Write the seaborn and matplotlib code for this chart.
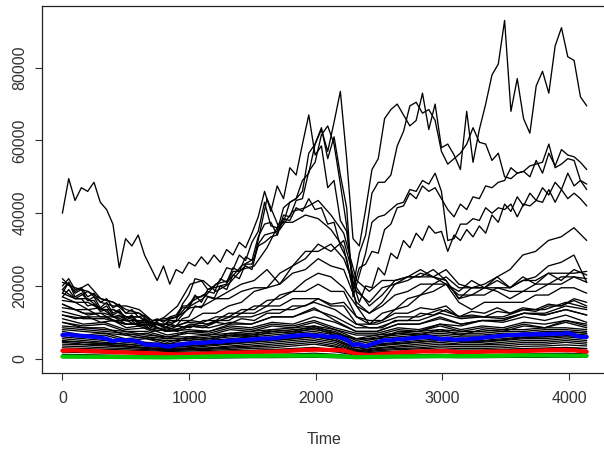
import numpy as np
import pandas as pd
import matplotlib
matplotlib.use("Agg")
import matplotlib.pyplot as plt
import seaborn as sns

# Last time step of every series; each series is sampled evenly on [0, T_END]
T_END = 4140

# ---- upper series (sampled every ~50 steps) ----
series_a = [40000, 49500, 43500, 47000, 46000, 48500, 43000, 41000, 37000, 25000,
            33000, 31000, 34000, 28500, 25000, 21500, 25500, 20500, 24500, 23500,
            26500, 25500, 28000, 26000, 28500, 26500, 30000, 28500, 32000, 30500,
            34500, 39000, 46000, 40500, 47500, 44000, 52500, 50500, 59000, 67000,
            56000, 58500, 47000, 49000, 38000, 35000, 21000, 15500, 20000, 19500,
            25000, 23000, 29000, 27500, 32500, 30500, 34500, 32500, 36500, 34500,
            35000, 29500, 34000, 32500, 35500, 33500, 36500, 34500, 39500, 37500,
            42500, 40500, 44500, 42000, 45500, 43500, 47000, 45000, 48500, 46500,
            51000, 47500, 49000, 46500]
series_b = [18000, 21000, 18000, 19000, 16000, 17000, 14000, 15500, 12500, 13500,
            11000, 12000, 10000, 11000, 9000, 10000, 9000, 10500, 10500, 15000,
            17500, 22000, 21500, 19000, 20000, 21500, 25000, 24500, 28500, 27000,
            32000, 35000, 43000, 36500, 36000, 37500, 43000, 44000, 49000, 51000,
            59000, 63000, 57000, 65000, 73500, 55000, 33000, 31000, 41000, 52000,
            55000, 66000, 68500, 70000, 67000, 64000, 65500, 73000, 63000, 70000,
            58000, 59000, 56000, 52000, 68000, 54000, 63000, 70000, 78000, 81000,
            93000, 68000, 77000, 66000, 62000, 75000, 79000, 73000, 86000, 91000,
            83000, 82000, 72000, 69500]
series_c = [20000, 22000, 19000, 19500, 17000, 18000, 15500, 16500, 14000, 15000,
            12500, 13500, 11500, 12000, 10000, 11000, 10000, 11500, 12000, 14500,
            14500, 17500, 15500, 19000, 19500, 20000, 20500, 24000, 24000, 28000,
            27000, 33500, 37000, 37500, 34000, 39500, 39000, 43500, 44000, 51500,
            54000, 61500, 64000, 59000, 48000, 36500, 19500, 29000, 34000, 45500,
            48500, 48500, 50500, 58500, 62500, 69500, 70500, 67500, 68500, 65500,
            57000, 53500, 55000, 56500, 59000, 63500, 59500, 59000, 54500, 56500,
            50000, 49500, 51000, 51500, 53000, 53500, 54000, 59000, 52500, 53500,
            55000, 54500, 49000, 48000]
series_d = [19000, 21000, 17000, 18000, 16000, 16000, 13500, 14500, 12000, 13000,
            10500, 11500, 9500, 10500, 8500, 9500, 9000, 11000, 11500, 14000,
            14000, 17000, 17000, 18500, 18000, 22000, 21000, 25000, 24000, 25500,
            24500, 31500, 34000, 34500, 35000, 41500, 43000, 44000, 46000, 56500,
            59000, 63500, 55000, 61000, 50500, 41500, 17000, 23000, 29000, 37500,
            39000, 39500, 41000, 42500, 43000, 46500, 46000, 49000, 48000, 51000,
            46000, 32500, 33000, 37000, 37000, 38500, 38000, 41500, 40000, 41500,
            41000, 42500, 39000, 42500, 42000, 43500, 43000, 46500, 43000, 46500,
            44000, 45500, 44000, 42000]
series_e = [17000, 19000, 16500, 16500, 14500, 15000, 13000, 13500, 11500, 12000,
            10500, 10500, 9000, 9500, 8000, 8500, 8000, 9500, 9000, 11000,
            11500, 14500, 14000, 17000, 16500, 20000, 19000, 23000, 22000, 26000,
            26000, 31000, 32000, 33500, 34000, 38500, 38000, 41500, 40500, 44000,
            41000, 41500, 37000, 37500, 31000, 27500, 19000, 25000, 26000, 29500,
            29000, 35500, 37000, 41500, 42000, 45500, 44000, 47500, 46000, 47000,
            44000, 41000, 39000, 42500, 41000, 44500, 44000, 47500, 47000, 48500,
            49000, 52500, 51000, 51500, 50000, 54500, 51000, 56500, 53000, 57500,
            56000, 55500, 54000, 52000]

# ---- middle series (sampled every ~100 steps) ----
series_m1 = [22000, 18500, 20500, 16500, 15500, 13500, 12500, 9500, 9500, 10500,
             14500, 16500, 20500, 21500, 25500, 27500, 44000, 35500, 40500, 41500,
             43500, 39500, 34500, 21500, 18500, 21500, 21500, 22500, 22500, 22500,
             21500, 16500, 19500, 20500, 22500, 19500, 22500, 20500, 23500, 21500,
             24500, 23000]
series_m2 = [19000, 16500, 18500, 15500, 14500, 14500, 13500, 10500, 10500, 11500,
             15500, 17500, 16500, 18500, 20500, 21500, 24500, 20500, 25500, 27500,
             31500, 29500, 32500, 19500, 14500, 17500, 21500, 22500, 24500, 22500,
             20500, 18500, 21500, 19500, 22500, 24500, 28500, 29500, 32500, 33500,
             36000, 32500]
series_m3 = [16000, 15500, 13500, 14000, 11500, 11500, 10000, 10000, 8500, 10500,
             10500, 12500, 12500, 14500, 15500, 18500, 19500, 23500, 25500, 29500,
             29500, 31500, 27500, 18500, 15500, 19500, 20500, 22500, 22500, 24500,
             21500, 16500, 17500, 19500, 19500, 18500, 18500, 20500, 20500, 22500,
             22500, 22000]
series_m4 = [21000, 19500, 18500, 16500, 15500, 12500, 12500, 10500, 11000, 11500,
             14000, 14500, 16500, 16500, 18500, 19500, 19500, 20500, 23500, 24500,
             27500, 25500, 24500, 15500, 12500, 14500, 17500, 18500, 20500, 20500,
             22500, 19500, 19500, 19500, 18500, 16500, 18500, 18500, 20500, 20500,
             22500, 21000]
series_m5 = [14000, 13500, 12000, 12500, 10500, 10500, 9000, 9500, 7500, 9000,
             8500, 10500, 10500, 12500, 12500, 14500, 14500, 17500, 18500, 21500,
             23500, 22500, 19500, 14500, 9500, 12500, 13500, 16500, 17500, 20500,
             20500, 15500, 13500, 15500, 15500, 15500, 15500, 17500, 17500, 19500,
             19500, 18000]
series_m6 = [18000, 16500, 16500, 13500, 13500, 11500, 11500, 9500, 9500, 9000,
             10500, 10000, 11500, 11500, 13500, 13500, 16000, 16500, 18500, 18500,
             20500, 18500, 18500, 11500, 9500, 10500, 13500, 14500, 17500, 18500,
             20500, 17500, 17500, 17500, 19500, 19500, 21500, 22500, 25500, 26500,
             28500, 21000]
series_m7 = [12000, 11000, 11500, 10000, 10500, 8500, 9000, 7500, 8000, 7500,
             9000, 8500, 10000, 9500, 11000, 10500, 12500, 12500, 14500, 14500,
             16500, 15000, 15500, 11500, 10500, 10500, 12500, 12500, 14000, 13500,
             14500, 11500, 13000, 12500, 14000, 12500, 14000, 13500, 15000, 14500,
             16000, 14500]
series_m8 = [15000, 13500, 13500, 11500, 11500, 9500, 9500, 8000, 8500, 8000,
             9500, 9000, 10500, 10500, 12500, 12500, 14500, 14500, 16500, 16500,
             16500, 14500, 14500, 9500, 8500, 8500, 10500, 10500, 12500, 12000,
             13500, 11500, 12000, 11500, 13000, 12500, 13500, 13000, 14500, 14500,
             16500, 15500]
series_m9 = [17000, 15500, 15500, 13500, 13500, 11500, 11500, 9500, 11500, 14500,
             20500, 21500, 18500, 20500, 24500, 25500, 30500, 37500, 37500, 39500,
             38500, 35500, 30500, 14500, 12500, 15500, 20500, 21500, 23500, 22500,
             24500, 20500, 19500, 19500, 21500, 19500, 21500, 21500, 23500, 23500,
             23500, 24000]

# ---- lower bundle, in thousands (sampled every ~166 steps) ----
bundle_01_k = [13, 11.5, 11.5, 9.5, 9.5, 7.5, 9, 8.5, 10, 9.5, 11.5, 11.5, 13.5, 11.5, 8.5, 8.5, 10.5, 10.5, 12.5, 11, 11.5, 11, 12.5, 12, 13.5, 12]
bundle_02_k = [12, 11, 11, 9.5, 9.5, 7.5, 8, 7.5, 9, 8.5, 10, 9.5, 11.5, 10, 7.5, 7.5, 9.5, 9.5, 11, 9.5, 10.5, 10, 11.5, 10.5, 12, 10]
bundle_03_k = [11, 9.5, 10, 8, 8.5, 6.5, 7.5, 7, 8.5, 8, 9.5, 9, 10.5, 8.5, 7, 7, 8.5, 8, 9.5, 8, 9, 8.5, 10, 9.5, 10.5, 9]
bundle_04_k = [10, 9, 9.5, 7.5, 7.5, 6, 7, 6.5, 8, 7.5, 9, 8.5, 10, 8, 6.5, 6.5, 8, 7.5, 9, 7.5, 8.5, 8, 9.5, 8.5, 10, 8.5]
bundle_05_k = [9, 8.5, 8, 7.5, 6.5, 6, 6, 6.5, 7, 7.5, 8, 8.5, 9, 8, 5.5, 6.5, 7, 7.5, 8, 7.5, 7.5, 8, 8, 8.5, 8.5, 8]
bundle_06_k = [8.5, 8, 7.5, 7, 6, 5.5, 5.5, 6, 6.5, 7, 7.5, 8, 8.5, 7.5, 5, 6, 6.5, 7, 7.5, 7, 7, 7.5, 7.5, 8, 8, 7.5]
bundle_07_k = [8, 7.5, 7, 6.5, 5.5, 5, 5, 5.5, 6, 6.5, 7, 7.5, 8, 7, 4.5, 5.5, 6, 6.5, 7, 6.5, 6.5, 7, 7, 7.5, 7.5, 7]
bundle_08_k = [7, 6, 6.5, 5, 5.5, 4, 5.5, 5, 6.5, 6, 7.5, 7, 8.5, 6.5, 5.5, 5.5, 7.5, 7.5, 9.5, 9, 10.5, 10.5, 12.5, 12.5, 14.5, 13.5]
bundle_09_k = [6.5, 6, 5.5, 5, 4.5, 4, 4.5, 5, 5.5, 6, 6.5, 7, 7.5, 6.5, 4, 5, 5.5, 6, 6.5, 6, 6, 6.5, 7, 7, 7.5, 7]
bundle_10_k = [6, 5.5, 5, 4.5, 4, 3.5, 4, 4.5, 5, 5.5, 6, 6.5, 7, 6, 3.5, 4.5, 5, 5.5, 6, 5.5, 5.5, 6, 6.5, 6.5, 7, 6.5]
bundle_11_k = [5.5, 5, 4.5, 4, 3.5, 3, 3.5, 4, 4.5, 5, 5.5, 6, 6.5, 5.5, 3, 4, 4.5, 5, 5.5, 5, 5, 5.5, 6, 6, 6.5, 6]
bundle_12_k = [5, 4.5, 4, 3.5, 3, 2.8, 3, 3.5, 4, 4.5, 5, 5.5, 6, 5, 2.5, 3.5, 4, 4.5, 5, 4.5, 4.5, 5, 5.5, 5.5, 6, 5.5]
bundle_13_k = [4.5, 4, 3.8, 3.5, 3, 2.5, 2.8, 3, 3.5, 4, 4.5, 5, 5.5, 4.5, 2.2, 3, 3.5, 4, 4.5, 4, 4, 4.5, 5, 5, 5.5, 5]
bundle_14_k = [4, 3.8, 3.5, 3.2, 2.8, 2.4, 2.6, 2.8, 3.2, 3.5, 4, 4.5, 5, 4, 2, 2.8, 3.2, 3.5, 4, 3.8, 3.8, 4, 4.5, 4.5, 5, 4.5]
bundle_15_k = [3.5, 3.3, 3, 2.8, 2.5, 2.2, 2.4, 2.6, 2.9, 3.2, 3.5, 4, 4.5, 3.5, 1.8, 2.5, 2.8, 3, 3.5, 3.3, 3.3, 3.5, 4, 4, 4.5, 4]
bundle_16_k = [3, 2.8, 2.6, 2.4, 2.2, 2, 2.1, 2.3, 2.5, 2.8, 3, 3.5, 4, 3.2, 1.6, 2.2, 2.5, 2.7, 3, 2.8, 2.8, 3, 3.4, 3.5, 3.8, 3.5]
bundle_17_k = [2.5, 2.3, 2.1, 2, 1.8, 1.6, 1.7, 1.9, 2.1, 2.3, 2.5, 2.8, 3.1, 2.5, 1.3, 1.8, 2, 2.2, 2.5, 2.3, 2.3, 2.5, 2.8, 2.9, 3.1, 2.8]
bundle_18_k = [1.8, 1.7, 1.6, 1.5, 1.3, 1.2, 1.3, 1.4, 1.6, 1.7, 1.9, 2.1, 2.3, 1.9, 1, 1.3, 1.5, 1.7, 1.9, 1.8, 1.8, 1.9, 2.1, 2.2, 2.3, 2.1]
bundle_19_k = [1.2, 1.1, 1, 0.9, 0.8, 0.7, 0.8, 0.9, 1, 1.1, 1.2, 1.3, 1.5, 1.2, 0.7, 0.9, 1, 1.1, 1.2, 1.1, 1.1, 1.2, 1.3, 1.4, 1.5, 1.3]
bundle_20_k = [0.3, 0.3, 0.25, 0.2, 0.2, 0.15, 0.2, 0.2, 0.25, 0.3, 0.3, 0.35, 0.4, 0.3, 0.2, 0.25, 0.3, 0.3, 0.35, 0.3, 0.3, 0.35, 0.4, 0.4, 0.45, 0.4]
bundle_21_k = [15, 12.5, 12.5, 10.5, 10.5, 8.5, 10, 9.5, 11.5, 11.5, 13.5, 13.5, 15.5, 13.5, 9.5, 9.5, 11.5, 11.5, 13.5, 11.5, 11.5, 11.5, 13.5, 13.5, 15.5, 14]
bundle_22_k = [10, 8.5, 8.5, 6.5, 7, 5.5, 7.5, 7.5, 9.5, 9.5, 11.5, 11.5, 14, 10.5, 7.5, 7.5, 9.5, 9.5, 11.5, 9.5, 10.5, 10.5, 12.5, 12, 13.5, 12]
bundle_23_k = [7.5, 6.5, 7, 5.5, 6, 4.5, 6, 5.5, 7, 6.5, 8, 7.5, 9, 7, 5.5, 5.5, 7, 6.5, 8, 6.5, 8, 7.5, 9, 8.5, 10.5, 9.5]
bundle_24_k = [4.8, 4.5, 4.2, 4, 3.5, 3.2, 3.4, 3.8, 4.2, 4.6, 5, 5.5, 6.2, 5, 3, 3.8, 4.2, 4.6, 5, 4.8, 4.8, 5.2, 5.8, 6, 6.3, 6]
bundle_25_k = [2.2, 2, 1.9, 1.8, 1.6, 1.5, 1.6, 1.8, 2, 2.2, 2.4, 2.6, 2.9, 2.4, 1.4, 1.8, 2, 2.2, 2.4, 2.3, 2.3, 2.5, 2.7, 2.8, 3, 2.7]

# ---- highlighted series ----
blue_series = [6500, 6700, 6400, 6300, 6200, 6000, 5800, 5500, 4800, 5200,
               5000, 5100, 4700, 4000, 3800, 3900, 3500, 3300, 3800, 4000,
               4200, 4400, 4300, 4500, 4700, 4600, 4900, 5000, 5100, 5100,
               5300, 5400, 5600, 5500, 5700, 6000, 6200, 6300, 6500, 6600,
               6200, 6400, 6000, 6100, 5900, 5200, 3800, 4000, 3400, 4000,
               4600, 5100, 5000, 5400, 5300, 5600, 5700, 5900, 6000, 5700,
               5300, 5500, 5200, 5300, 5300, 5500, 5600, 5900, 6000, 6200,
               6400, 6500, 6500, 6700, 6600, 6800, 6700, 6800, 6900, 6800,
               7100, 6500, 6000, 6000]
red_series = [2200, 2300, 2100, 2000, 1800, 1700, 1600, 1500, 1300, 1200,
              1300, 1400, 1500, 1600, 1700, 1800, 1900, 2000, 2200, 2400,
              2500, 2400, 2300, 1300, 1000, 1300, 1600, 1800, 2000, 2000,
              2100, 1800, 1800, 1900, 2000, 2000, 2100, 2200, 2300, 2400,
              2300, 1900]
green_series = [600, 550, 500, 450, 400, 350, 450, 600, 700, 750, 800, 800, 850,
                700, 400, 500, 600, 650, 700, 700, 750, 800, 900, 900, 850, 800]

upper = {"a": series_a, "b": series_b, "c": series_c, "d": series_d, "e": series_e}
middle = {"m1": series_m1, "m2": series_m2, "m3": series_m3, "m4": series_m4,
          "m5": series_m5, "m6": series_m6, "m7": series_m7, "m8": series_m8,
          "m9": series_m9}
lower_k = {"b01": bundle_01_k, "b02": bundle_02_k, "b03": bundle_03_k, "b04": bundle_04_k,
           "b05": bundle_05_k, "b06": bundle_06_k, "b07": bundle_07_k, "b08": bundle_08_k,
           "b09": bundle_09_k, "b10": bundle_10_k, "b11": bundle_11_k, "b12": bundle_12_k,
           "b13": bundle_13_k, "b14": bundle_14_k, "b15": bundle_15_k, "b16": bundle_16_k,
           "b17": bundle_17_k, "b18": bundle_18_k, "b19": bundle_19_k, "b20": bundle_20_k,
           "b21": bundle_21_k, "b22": bundle_22_k, "b23": bundle_23_k, "b24": bundle_24_k,
           "b25": bundle_25_k}


def long_frame(named, scale=1.0):
    parts = []
    for name, vals in named.items():
        vals = np.asarray(vals, dtype=float) * scale
        t = np.linspace(0, T_END, len(vals))
        parts.append(pd.DataFrame({"Time": t, "value": vals, "series": name}))
    return pd.concat(parts, ignore_index=True)


black_df = pd.concat([long_frame(lower_k, 1000.0), long_frame(middle), long_frame(upper)],
                     ignore_index=True)

sns.set_theme(style="white")
plt.rcParams["font.family"] = ["Liberation Sans", "DejaVu Sans"]

W, H = 604, 449
fig = plt.figure(figsize=(W / 100, H / 100), dpi=100)
left_px, right_px, top_px, bottom_px = 41.5, 607, 6, 373
ax = fig.add_axes([left_px / W, (H - bottom_px) / H,
                   (right_px - left_px) / W, (bottom_px - top_px) / H])

sns.lineplot(data=black_df, x="Time", y="value", units="series", estimator=None,
             sort=False, color="black", lw=0.95, ax=ax)

for vals, col in [(blue_series, "#0000FF"), (red_series, "#FF0000"), (green_series, "#00C800")]:
    t = np.linspace(0, T_END, len(vals))
    sns.lineplot(x=t, y=vals, color=col, lw=3.0, ax=ax, estimator=None, sort=False)

ax.set_xlim(-165, 4300)
ax.set_ylim(-3930, 96960)

ax.set_xticks([0, 1000, 2000, 3000, 4000])
ax.set_xticklabels(["0", "1000", "2000", "3000", "4000"])
ax.set_yticks([0, 20000, 40000, 60000, 80000])
ax.set_yticklabels(["0", "20000", "40000", "60000", "80000"], rotation=90, va="center")

for sp in ax.spines.values():
    sp.set_visible(True)
    sp.set_color("#222222")
    sp.set_linewidth(0.9)

ax.tick_params(axis="both", which="major", bottom=True, left=True, direction="out",
               length=5, width=0.8, color="#333333", labelcolor="#333333", labelsize=11.5)
ax.tick_params(axis="x", pad=8)
ax.tick_params(axis="y", pad=5)
ax.grid(False)

ax.set_ylabel("")
ax.set_xlabel("Time", fontsize=11.5, color="#333333")
ax.xaxis.set_label_coords(0.5, -(432 - bottom_px) / (bottom_px - top_px))

fig.savefig("out.png", dpi=100)
